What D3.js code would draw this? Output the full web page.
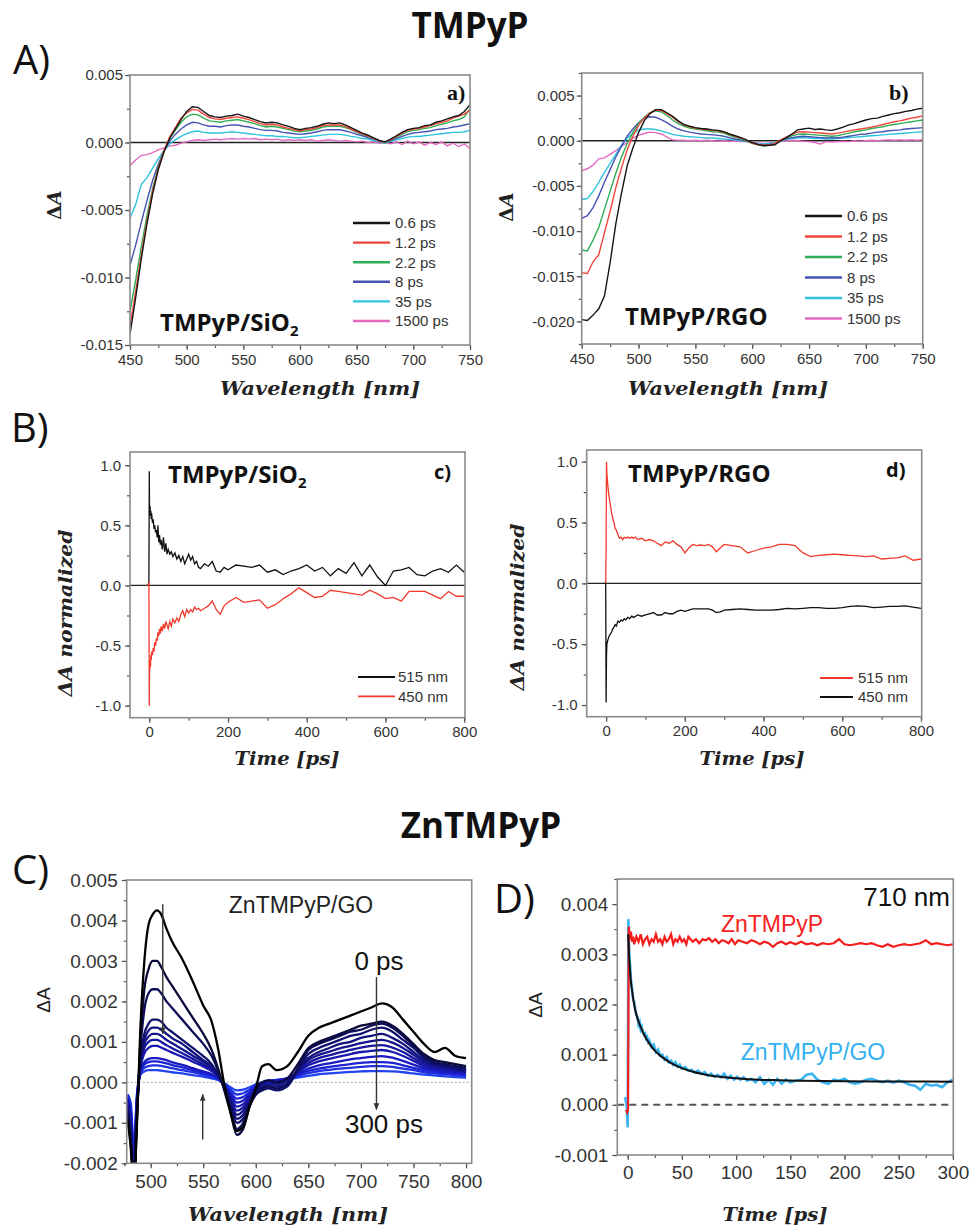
<!DOCTYPE html>
<html><head><meta charset="utf-8">
<script src="https://cdn.jsdelivr.net/npm/d3@7"></script>
<style>body{margin:0;background:#fff}svg{display:block}</style>
</head><body>
<svg id="fig" width="969" height="1225"></svg>
<script>
// ---------------- DATA (ΔA values in units of 10^-3 unless noted) ----------------
const MILLI = 1e-3;
const wlAB = [450,455,460,465,470,475,480,485,490,495,500,505,510,515,520,525,530,535,540,545,550,555,560,565,570,575,580,585,590,595,600,605,610,615,620,625,630,635,640,645,650,655,660,665,670,675,680,685,690,695,700,705,710,715,720,725,730,735,740,745,750];
const delaysAB = ["0.6 ps","1.2 ps","2.2 ps","8 ps","35 ps","1500 ps"];
const colorsAB = ["#161616","#f2453a","#2fac55","#4653b2","#2ec3de","#e06ac0"];
// panel a) TMPyP/SiO2
const a_0p6 = [-14.2,-11.5,-8.6,-6.0,-3.8,-2.0,-0.7,0.3,1.0,1.7,2.3,2.65,2.6,2.3,2.0,1.9,1.85,1.95,2.0,2.1,1.95,1.85,1.7,1.55,1.45,1.5,1.45,1.3,1.2,1.05,0.95,1.05,1.1,1.2,1.35,1.45,1.4,1.45,1.3,1.1,0.9,0.7,0.55,0.35,0.15,0.05,0.25,0.5,0.75,0.95,1.05,1.1,1.25,1.3,1.5,1.6,1.75,1.9,2.0,2.3,2.8];
const a_1p2 = [-13.6,-11.0,-8.3,-5.8,-3.6,-1.9,-0.6,0.4,1.1,1.8,2.2,2.45,2.4,2.1,1.85,1.75,1.7,1.8,1.85,1.9,1.8,1.7,1.55,1.4,1.3,1.35,1.3,1.15,1.05,0.95,0.85,0.95,1.0,1.1,1.25,1.3,1.3,1.3,1.2,1.0,0.8,0.65,0.5,0.3,0.1,0.05,0.2,0.45,0.7,0.9,1.0,1.05,1.15,1.25,1.4,1.5,1.6,1.8,1.95,2.1,2.4];
const a_2p2 = [-12.5,-10.2,-7.7,-5.4,-3.4,-1.8,-0.6,0.3,0.9,1.5,1.9,2.1,2.05,1.8,1.6,1.55,1.5,1.6,1.65,1.7,1.6,1.5,1.4,1.25,1.15,1.2,1.15,1.05,0.95,0.85,0.8,0.85,0.9,1.0,1.15,1.2,1.2,1.2,1.1,0.95,0.75,0.6,0.45,0.3,0.1,0.0,0.2,0.4,0.6,0.8,0.9,0.95,1.05,1.1,1.25,1.35,1.45,1.6,1.7,1.9,2.5];
const a_8 = [-9.1,-7.6,-5.9,-4.3,-2.8,-1.6,-0.6,0.1,0.6,1.0,1.3,1.5,1.45,1.3,1.2,1.2,1.15,1.25,1.3,1.3,1.2,1.15,1.05,0.95,0.9,0.9,0.85,0.75,0.7,0.65,0.6,0.65,0.7,0.8,0.9,0.95,0.95,0.95,0.85,0.75,0.6,0.5,0.35,0.25,0.1,0.0,0.15,0.3,0.45,0.6,0.7,0.75,0.8,0.85,0.95,1.0,1.05,1.15,1.2,1.3,1.4];
const a_35 = [-5.6,-4.6,-3.1,-2.6,-1.9,-1.2,-0.6,-0.1,0.2,0.45,0.65,0.8,0.85,0.75,0.7,0.7,0.7,0.75,0.8,0.75,0.7,0.65,0.6,0.55,0.5,0.5,0.45,0.45,0.4,0.35,0.35,0.4,0.45,0.5,0.55,0.6,0.6,0.6,0.55,0.45,0.4,0.3,0.25,0.15,0.05,-0.05,0.1,0.2,0.3,0.4,0.45,0.45,0.5,0.55,0.6,0.65,0.7,0.75,0.75,0.8,0.9];
const a_1500 = [-1.7,-1.3,-0.95,-0.9,-0.75,-0.55,-0.4,-0.25,-0.2,-0.05,0.05,0.15,0.2,0.15,0.2,0.25,0.2,0.25,0.3,0.25,0.3,0.25,0.3,0.2,0.25,0.2,0.25,0.15,0.2,0.15,0.2,0.15,0.2,0.1,0.15,0.2,0.15,0.1,0.15,0.1,0.05,0.1,0.0,0.05,-0.05,0.0,-0.1,0.05,-0.15,0.1,-0.1,0.05,-0.2,0.0,-0.15,0.05,-0.25,-0.05,-0.3,-0.1,-0.45];
// panel b) TMPyP/RGO
const b_0p6 = [-19.8,-19.9,-19.3,-18.6,-17.2,-13.5,-9.2,-5.8,-2.8,-0.8,0.9,2.2,3.0,3.45,3.45,3.1,2.7,2.2,1.8,1.6,1.45,1.35,1.3,1.2,1.15,1.0,0.75,0.55,0.35,0.1,-0.2,-0.4,-0.55,-0.5,-0.45,0.0,0.35,0.75,1.2,1.3,1.4,1.25,1.3,1.2,1.15,1.3,1.5,1.75,1.9,2.1,2.3,2.45,2.5,2.7,2.85,3.0,3.1,3.25,3.35,3.5,3.6];
const b_1p2 = [-14.6,-14.7,-13.4,-12.6,-10.2,-7.8,-5.2,-3.0,-1.0,0.5,1.7,2.5,3.05,3.4,3.35,3.0,2.6,2.1,1.75,1.55,1.4,1.3,1.25,1.15,1.1,0.95,0.7,0.5,0.3,0.05,-0.25,-0.45,-0.5,-0.45,-0.3,0.1,0.4,0.7,0.95,1.0,0.95,0.9,0.85,0.8,0.75,0.85,0.95,1.1,1.2,1.3,1.4,1.5,1.65,1.8,1.95,2.1,2.2,2.35,2.5,2.6,2.75];
const b_2p2 = [-12.1,-12.2,-11.0,-9.6,-7.6,-5.6,-3.6,-1.8,-0.3,0.9,1.9,2.6,3.1,3.3,3.2,2.8,2.3,1.9,1.6,1.4,1.3,1.2,1.1,1.0,0.95,0.85,0.6,0.4,0.2,0.0,-0.3,-0.45,-0.55,-0.5,-0.35,0.0,0.3,0.55,0.7,0.75,0.7,0.65,0.6,0.55,0.5,0.55,0.7,0.85,1.0,1.1,1.2,1.35,1.45,1.55,1.7,1.8,1.9,2.0,2.1,2.2,2.3];
const b_8 = [-8.6,-8.3,-7.4,-6.1,-4.6,-3.2,-1.8,-0.6,0.5,1.3,2.0,2.5,2.65,2.6,2.35,2.0,1.6,1.3,1.1,0.95,0.85,0.75,0.7,0.65,0.6,0.5,0.35,0.2,0.1,-0.05,-0.25,-0.4,-0.45,-0.4,-0.3,0.0,0.2,0.35,0.45,0.5,0.45,0.4,0.35,0.3,0.35,0.3,0.4,0.5,0.6,0.7,0.75,0.85,0.95,1.0,1.1,1.15,1.2,1.3,1.35,1.4,1.45];
const b_35 = [-6.5,-6.4,-5.6,-4.6,-3.5,-2.5,-1.5,-0.5,0.3,0.8,1.2,1.3,1.3,1.25,1.1,0.9,0.7,0.6,0.5,0.45,0.4,0.35,0.3,0.3,0.25,0.2,0.15,0.1,0.0,-0.1,-0.25,-0.35,-0.35,-0.3,-0.2,0.0,0.15,0.25,0.3,0.35,0.3,0.25,0.25,0.2,0.2,0.25,0.3,0.35,0.4,0.45,0.5,0.55,0.6,0.65,0.7,0.75,0.8,0.85,0.9,0.95,1.0];
const b_1500 = [-3.3,-3.1,-2.7,-2.0,-1.9,-1.5,-1.1,-0.6,-0.2,0.3,0.6,0.8,0.95,0.9,0.75,0.4,0.1,0.05,0.05,0.0,0.05,0.0,0.05,0.0,-0.05,0.0,-0.05,0.0,-0.1,-0.1,-0.2,-0.25,-0.3,-0.25,-0.2,-0.1,0.0,0.05,0.0,-0.05,-0.1,-0.2,-0.35,-0.1,-0.15,-0.1,-0.05,-0.1,0.0,-0.05,0.0,0.05,0.0,0.05,0.1,0.05,0.1,0.05,0.1,0.05,0.1];
// panels c) and d): normalized kinetics, [time ps, ΔA normalized]
const c_515 = [[-5,0],[-1,0.02],[0,0.95],[0.5,0.7],[1,0.6],[2,0.66],[3,0.58],[4,0.62],[5,0.55],[6,0.6],[8,0.52],[10,0.55],[12,0.47],[14,0.5],[16,0.44],[18,0.46],[20,0.4],[22,0.5],[24,0.36],[26,0.42],[28,0.34],[30,0.38],[33,0.3],[36,0.4],[39,0.28],[42,0.35],[45,0.26],[48,0.3],[52,0.26],[56,0.28],[60,0.24],[65,0.27],[70,0.22],[75,0.25],[80,0.2],[85,0.24],[90,0.18],[95,0.22],[100,0.26],[105,0.21],[110,0.24],[115,0.18],[120,0.2],[125,0.15],[130,0.14],[140,0.18],[150,0.16],[160,0.2],[170,0.12],[180,0.11],[190,0.15],[200,0.13],[220,0.17],[240,0.16],[260,0.15],[280,0.17],[300,0.11],[320,0.13],[340,0.09],[360,0.12],[380,0.14],[400,0.17],[420,0.12],[440,0.15],[460,0.08],[480,0.14],[500,0.1],[520,0.19],[540,0.08],[560,0.17],[580,0.07],[600,0.0],[620,0.12],[640,0.13],[660,0.15],[680,0.09],[700,0.08],[720,0.12],[740,0.14],[760,0.11],[780,0.17],[800,0.11]];
const c_450 = [[-5,0],[-1,0.02],[0,-1.0],[0.5,-0.75],[1,-0.7],[2,-0.62],[3,-0.68],[4,-0.58],[5,-0.62],[6,-0.55],[8,-0.58],[10,-0.52],[12,-0.55],[14,-0.47],[16,-0.5],[18,-0.44],[20,-0.46],[22,-0.39],[24,-0.42],[26,-0.36],[28,-0.4],[30,-0.34],[33,-0.38],[36,-0.32],[39,-0.36],[42,-0.3],[45,-0.33],[48,-0.36],[52,-0.3],[56,-0.34],[60,-0.28],[65,-0.31],[70,-0.27],[75,-0.3],[80,-0.24],[85,-0.21],[90,-0.26],[95,-0.2],[100,-0.23],[105,-0.2],[110,-0.22],[115,-0.18],[120,-0.2],[125,-0.19],[130,-0.21],[140,-0.19],[150,-0.17],[160,-0.13],[170,-0.2],[180,-0.24],[190,-0.17],[200,-0.14],[220,-0.1],[240,-0.14],[260,-0.13],[280,-0.12],[300,-0.19],[320,-0.16],[340,-0.11],[360,-0.07],[380,-0.02],[400,-0.06],[420,-0.1],[440,-0.09],[460,-0.04],[480,-0.05],[500,-0.06],[520,-0.07],[540,-0.08],[560,-0.04],[580,-0.07],[600,-0.11],[620,-0.1],[640,-0.13],[660,-0.05],[680,-0.05],[700,-0.05],[720,-0.08],[740,-0.11],[760,-0.05],[780,-0.09],[800,-0.09]];
const d_515 = [[-5,0],[-1,0],[0,0.3],[1,1.0],[2,0.9],[4,0.82],[6,0.75],[8,0.7],[10,0.66],[12,0.62],[14,0.58],[16,0.55],[18,0.52],[20,0.5],[23,0.45],[26,0.44],[30,0.4],[34,0.37],[38,0.38],[42,0.36],[46,0.38],[50,0.37],[55,0.38],[60,0.37],[65,0.38],[70,0.37],[75,0.38],[80,0.36],[90,0.37],[100,0.35],[110,0.36],[120,0.35],[130,0.33],[140,0.31],[150,0.34],[160,0.33],[170,0.35],[180,0.32],[190,0.3],[200,0.25],[210,0.29],[220,0.32],[230,0.31],[240,0.315],[250,0.31],[260,0.32],[270,0.3],[280,0.26],[290,0.29],[300,0.32],[320,0.31],[340,0.3],[360,0.25],[380,0.27],[400,0.29],[420,0.3],[440,0.32],[460,0.32],[480,0.31],[500,0.25],[520,0.22],[540,0.23],[560,0.235],[580,0.24],[600,0.235],[620,0.23],[640,0.225],[660,0.22],[680,0.225],[700,0.2],[720,0.205],[740,0.21],[760,0.225],[780,0.19],[800,0.2]];
const d_450 = [[-5,0],[-1,0],[0,-0.98],[1,-0.6],[2,-0.5],[4,-0.47],[6,-0.45],[8,-0.43],[10,-0.42],[12,-0.41],[14,-0.4],[16,-0.38],[18,-0.37],[20,-0.36],[23,-0.34],[26,-0.35],[30,-0.31],[34,-0.32],[38,-0.3],[42,-0.31],[46,-0.29],[50,-0.3],[55,-0.28],[60,-0.29],[65,-0.27],[70,-0.28],[75,-0.27],[80,-0.26],[90,-0.27],[100,-0.26],[110,-0.25],[120,-0.24],[130,-0.26],[140,-0.26],[150,-0.24],[160,-0.25],[170,-0.25],[180,-0.23],[190,-0.22],[200,-0.23],[210,-0.22],[220,-0.21],[230,-0.21],[240,-0.21],[250,-0.21],[260,-0.21],[270,-0.22],[280,-0.24],[290,-0.235],[300,-0.22],[320,-0.215],[340,-0.21],[360,-0.215],[380,-0.22],[400,-0.22],[420,-0.22],[440,-0.215],[460,-0.205],[480,-0.21],[500,-0.205],[520,-0.2],[540,-0.2],[560,-0.205],[580,-0.205],[600,-0.2],[620,-0.19],[640,-0.185],[660,-0.19],[680,-0.2],[700,-0.195],[720,-0.19],[740,-0.19],[760,-0.185],[780,-0.195],[800,-0.205]];
// panel C) ZnTMPyP/GO spectra, 0 ps ... 300 ps
const wlC = [478,481,484,487,490,494,498,502,506,510,515,520,530,540,550,558,564,570,576,582,588,594,600,606,612,620,630,640,650,660,670,680,690,700,710,720,730,740,750,760,770,780,790,800];
const C1 = [-0.9,-1.6,-2.6,-1.0,1.2,3.0,3.9,4.15,4.25,4.15,3.8,3.5,3.05,2.5,1.9,1.5,0.85,-0.05,-0.75,-1.2,-1.1,-0.6,-0.15,0.4,0.45,0.3,0.4,0.75,1.15,1.35,1.45,1.55,1.65,1.75,1.85,1.95,1.85,1.55,1.25,0.95,0.75,0.85,0.65,0.6];
const C2 = [-0.8,-1.5,-2.5,-0.9,0.9,2.3,2.8,3.0,3.0,2.85,2.6,2.4,2.0,1.6,1.2,0.8,0.35,-0.2,-0.75,-1.3,-1.15,-0.6,-0.2,0.0,0.05,0.0,0.1,0.45,0.85,1.0,1.1,1.2,1.3,1.4,1.45,1.5,1.4,1.2,0.95,0.7,0.55,0.5,0.45,0.4];
const C3 = [-0.7,-1.4,-2.5,-0.8,0.7,1.8,2.2,2.3,2.3,2.2,2.0,1.85,1.55,1.25,0.95,0.65,0.3,-0.15,-0.65,-1.15,-1.0,-0.6,-0.3,-0.15,-0.1,-0.15,-0.05,0.35,0.8,0.95,1.05,1.15,1.25,1.3,1.4,1.45,1.35,1.15,0.9,0.65,0.5,0.45,0.4,0.35];
const C4 = [-0.6,-1.3,-2.4,-0.7,0.5,1.2,1.45,1.55,1.55,1.5,1.35,1.25,1.05,0.85,0.65,0.45,0.2,-0.15,-0.6,-1.0,-0.9,-0.55,-0.3,-0.2,-0.15,-0.2,-0.1,0.3,0.7,0.85,0.95,1.05,1.15,1.2,1.3,1.35,1.25,1.05,0.85,0.6,0.45,0.4,0.35,0.3];
const C5 = [-0.6,-1.2,-2.3,-0.6,0.45,1.05,1.28,1.35,1.35,1.3,1.2,1.1,0.95,0.75,0.55,0.4,0.2,-0.1,-0.5,-0.9,-0.8,-0.5,-0.25,-0.15,-0.1,-0.1,0.0,0.3,0.6,0.75,0.85,0.95,1.0,1.1,1.15,1.2,1.1,0.95,0.75,0.55,0.45,0.4,0.35,0.3];
const C6 = [-0.5,-1.1,-2.2,-0.6,0.4,0.95,1.13,1.2,1.2,1.15,1.05,0.97,0.82,0.66,0.5,0.35,0.17,-0.1,-0.45,-0.8,-0.7,-0.45,-0.2,-0.1,-0.05,-0.05,0.05,0.28,0.55,0.68,0.76,0.84,0.9,0.97,1.02,1.05,0.98,0.85,0.68,0.5,0.42,0.37,0.33,0.28];
const C7 = [-0.5,-1.0,-2.1,-0.5,0.35,0.85,1.0,1.05,1.05,1.0,0.92,0.85,0.72,0.58,0.44,0.32,0.15,-0.08,-0.4,-0.7,-0.62,-0.4,-0.18,-0.08,-0.02,0.0,0.08,0.26,0.48,0.6,0.67,0.74,0.8,0.86,0.9,0.92,0.86,0.75,0.6,0.45,0.38,0.34,0.3,0.26];
const C8 = [-0.4,-0.9,-2.0,-0.5,0.3,0.72,0.85,0.9,0.9,0.86,0.8,0.74,0.63,0.51,0.39,0.28,0.14,-0.06,-0.35,-0.6,-0.54,-0.35,-0.15,-0.05,0.0,0.02,0.1,0.24,0.42,0.52,0.58,0.64,0.7,0.75,0.78,0.8,0.75,0.65,0.53,0.4,0.34,0.3,0.27,0.24];
const C9 = [-0.4,-0.8,-1.9,-0.4,0.25,0.5,0.58,0.6,0.6,0.58,0.55,0.5,0.43,0.35,0.27,0.2,0.1,-0.05,-0.3,-0.5,-0.45,-0.3,-0.12,-0.03,0.02,0.04,0.1,0.2,0.34,0.42,0.47,0.52,0.57,0.6,0.63,0.65,0.61,0.53,0.44,0.35,0.3,0.27,0.24,0.22];
const C10 = [-0.35,-0.7,-1.8,-0.4,0.22,0.44,0.5,0.52,0.52,0.5,0.47,0.43,0.37,0.3,0.23,0.17,0.09,-0.04,-0.25,-0.4,-0.36,-0.24,-0.1,-0.02,0.03,0.05,0.1,0.18,0.28,0.34,0.38,0.42,0.45,0.48,0.5,0.5,0.48,0.42,0.36,0.3,0.26,0.23,0.21,0.19];
const C11 = [-0.3,-0.6,-1.7,-0.3,0.2,0.36,0.4,0.42,0.42,0.41,0.38,0.35,0.3,0.25,0.19,0.14,0.08,-0.03,-0.18,-0.3,-0.27,-0.18,-0.07,0.0,0.04,0.06,0.1,0.16,0.23,0.28,0.31,0.34,0.36,0.38,0.4,0.4,0.38,0.34,0.3,0.25,0.22,0.2,0.18,0.16];
const C12 = [-0.3,-0.5,-1.6,-0.3,0.18,0.27,0.3,0.3,0.3,0.29,0.27,0.25,0.22,0.18,0.14,0.1,0.06,-0.02,-0.12,-0.2,-0.18,-0.12,-0.05,0.0,0.04,0.06,0.08,0.12,0.16,0.2,0.22,0.24,0.26,0.27,0.28,0.28,0.27,0.25,0.22,0.19,0.17,0.15,0.13,0.12];
const colorsC = ["#000000","#0a0a3c","#0c0c58","#10106e","#12127e","#14148e","#16169e","#1818b0","#1a1ac2","#1c24d2","#1e30e0","#2244f0"];
// arrows in C): [wavelength, from ΔA, to ΔA]
const arrowsC = [[511.5,0.0044,0.0012],[549.5,-0.00141,-0.0003],[714.8,0.0026,-0.00067]];
// panel D) kinetics at 710 nm, [time ps, ΔA x10^-3]
const D_Zn = [[-1.5,-0.1],[-0.5,-0.15],[0.3,-0.1],[1,3.55],[2,3.3],[3,3.45],[4,3.25],[5,3.35],[6,3.2],[8,3.35],[10,3.25],[12,3.4],[14,3.2],[16,3.3],[18,3.35],[20,3.2],[22,3.3],[24,3.25],[26,3.4],[28,3.25],[30,3.3],[32,3.2],[34,3.35],[36,3.25],[38,3.3],[40,3.4],[42,3.2],[44,3.3],[46,3.25],[48,3.35],[50,3.25],[52,3.3],[54,3.2],[56,3.35],[58,3.3],[60,3.25],[63,3.3],[66,3.22],[69,3.3],[72,3.28],[75,3.32],[78,3.25],[81,3.3],[84,3.22],[87,3.28],[90,3.26],[93,3.22],[96,3.3],[99,3.2],[102,3.28],[106,3.25],[110,3.22],[114,3.28],[118,3.25],[122,3.2],[126,3.25],[130,3.22],[134,3.15],[138,3.22],[142,3.25],[146,3.2],[150,3.24],[155,3.2],[160,3.25],[165,3.2],[170,3.22],[175,3.18],[180,3.22],[185,3.2],[190,3.22],[195,3.3],[200,3.2],[205,3.18],[210,3.2],[215,3.22],[220,3.2],[225,3.22],[230,3.18],[235,3.15],[240,3.2],[245,3.15],[250,3.18],[255,3.2],[260,3.18],[265,3.2],[270,3.22],[275,3.28],[280,3.2],[285,3.22],[290,3.2],[295,3.18],[300,3.2]];
const D_ZnGO = [[-2.5,0.15],[-1,0.0],[0,-0.45],[0.6,3.7],[1.5,3.0],[3,2.5],[4,2.3],[5,2.1],[6,2.05],[7,1.9],[8,1.8],[9,1.75],[10,1.6],[11,1.65],[12,1.5],[13,1.55],[14,1.45],[15,1.4],[16,1.42],[17,1.32],[18,1.35],[19,1.25],[20,1.28],[22,1.15],[24,1.2],[26,1.05],[28,1.1],[30,0.98],[32,1.0],[34,0.9],[36,0.95],[38,0.85],[40,0.88],[42,0.8],[44,0.85],[46,0.76],[48,0.8],[50,0.72],[53,0.75],[56,0.68],[59,0.7],[62,0.64],[65,0.68],[68,0.62],[71,0.65],[74,0.58],[77,0.62],[80,0.56],[83,0.6],[86,0.55],[89,0.62],[92,0.52],[95,0.58],[98,0.5],[101,0.56],[104,0.5],[107,0.55],[110,0.48],[114,0.52],[118,0.45],[122,0.55],[126,0.42],[130,0.5],[134,0.4],[138,0.52],[142,0.42],[146,0.5],[150,0.45],[155,0.48],[160,0.5],[165,0.6],[170,0.62],[175,0.5],[180,0.45],[185,0.42],[190,0.5],[195,0.48],[200,0.52],[205,0.45],[210,0.42],[215,0.45],[220,0.5],[225,0.52],[230,0.48],[235,0.45],[240,0.48],[245,0.44],[250,0.48],[255,0.45],[260,0.4],[265,0.38],[270,0.3],[275,0.42],[280,0.38],[285,0.4],[290,0.35],[295,0.45],[300,0.5]];
const D_fit = [[0.5,3.4],[1,3.1],[2,2.72],[3,2.45],[4,2.28],[5,2.12],[7,1.88],[10,1.66],[13,1.5],[16,1.36],[20,1.22],[25,1.08],[30,0.98],[35,0.9],[40,0.83],[50,0.73],[60,0.66],[70,0.61],[80,0.57],[90,0.55],[100,0.53],[120,0.5],[140,0.49],[160,0.48],[200,0.47],[250,0.465],[300,0.46]];
// ticks
const ticksA_y = [-0.015,-0.01,-0.005,0,0.005], ticksB_y = [-0.02,-0.015,-0.01,-0.005,0,0.005];
const ticksAB_x = [450,500,550,600,650,700,750];
const ticksCD_y = [-1,-0.5,0,0.5,1], ticksCD_x = [0,200,400,600,800];
const ticksC_y = [-0.002,-0.001,0,0.001,0.002,0.003,0.004,0.005], ticksC_x = [500,550,600,650,700,750,800];
const ticksD_y = [-0.001,0,0.001,0.002,0.003,0.004], ticksD_x = [0,50,100,150,200,250,300];

// ---------------- DRAWING ----------------
const svg = d3.select("#fig");
const SANS = "'Liberation Sans', Arial, sans-serif";
const BOLD = "'Open Sans', 'Noto Sans', sans-serif";
const MATH = "'DejaVu Serif', serif";

function panel(o) {
  const x = d3.scaleLinear().domain(o.xd).range([o.l, o.r]);
  const y = d3.scaleLinear().domain(o.yd).range([o.b, o.t]);
  const id = "clip" + o.id;
  svg.append("clipPath").attr("id", id).append("rect")
    .attr("x", o.l).attr("y", o.t).attr("width", o.r - o.l).attr("height", o.b - o.t);
  const g = svg.append("g");
  const style = sel => {
    sel.select(".domain").remove();
    sel.selectAll("line").attr("stroke", "#555").attr("stroke-width", 1.2);
    sel.selectAll("text").attr("font-family", SANS).attr("font-size", o.fs).attr("fill", "#333");
  };
  g.append("g").attr("transform", `translate(${o.l},0)`)
    .call(d3.axisLeft(y).tickValues(o.yMinor).tickSize(3).tickFormat("")).call(style);
  g.append("g").attr("transform", `translate(0,${o.b})`)
    .call(d3.axisBottom(x).tickValues(o.xMinor).tickSize(3).tickFormat("")).call(style);
  g.append("g").attr("transform", `translate(${o.l},0)`)
    .call(d3.axisLeft(y).tickValues(o.yt).tickSize(5).tickPadding(o.ypad).tickFormat(o.yf)).call(style);
  g.append("g").attr("transform", `translate(0,${o.b})`)
    .call(d3.axisBottom(x).tickValues(o.xt).tickSize(5).tickPadding(o.xpad).tickFormat(d => String(d))).call(style);
  const plot = svg.append("g").attr("clip-path", `url(#${id})`);
  const frame = svg.append("rect").attr("x", o.l).attr("y", o.t).attr("width", o.r - o.l).attr("height", o.b - o.t)
    .attr("fill", "none").attr("stroke", o.frame || "#8a8a8a").attr("stroke-width", 1.6);
  return { x, y, plot, g };
}
function minors(a, b, s) { const r = []; for (let v = a; v <= b + 1e-12; v += s) r.push(+v.toFixed(6)); return r; }

function mathLabel(txt, x, y, len, rotate) {
  const t = svg.append("text").attr("font-family", MATH).attr("font-weight", "bold").attr("font-style", "italic")
    .attr("font-size", 19).attr("fill", "#222").attr("text-anchor", "middle")
    .attr("textLength", len).attr("lengthAdjust", "spacingAndGlyphs").text(txt);
  if (rotate) t.attr("transform", `translate(${x},${y}) rotate(-90)`); else t.attr("x", x).attr("y", y);
  return t;
}
function deltaA(x, y, size, sans) {
  const t = svg.append("text").attr("transform", `translate(${x},${y}) rotate(-90)`).attr("text-anchor", "middle")
    .attr("font-size", size).attr("fill", "#222");
  if (sans) { t.attr("font-family", SANS).text("ΔA"); }
  else {
    t.attr("font-family", MATH).attr("font-weight", "bold");
    t.append("tspan").text("Δ");
    t.append("tspan").attr("font-style", "italic").text("A");
  }
}
function sampleLabel(x, y, main, sub, size) {
  const t = svg.append("text").attr("x", x).attr("y", y).attr("font-family", BOLD).attr("font-weight", "bold")
    .attr("font-size", size).attr("fill", "#111").text(main);
  if (sub) t.append("tspan").attr("font-size", size * 0.62).attr("dy", 5).text(sub);
}
function txt(x, y, s, size, opts = {}) {
  return svg.append("text").attr("x", x).attr("y", y).attr("font-family", opts.family || SANS)
    .attr("font-weight", opts.weight || "normal").attr("font-size", size).attr("fill", opts.fill || "#111")
    .attr("text-anchor", opts.anchor || "start").text(s);
}

// Titles and panel letters
txt(470, 38, "TMPyP", 35, { family: BOLD, weight: "bold", anchor: "middle" });
txt(481, 838, "ZnTMPyP", 35, { family: BOLD, weight: "bold", anchor: "middle" });
txt(13, 74, "A)", 40, { family: BOLD });
txt(11, 442, "B)", 40, { family: BOLD });
txt(12, 884, "C)", 40, { family: BOLD });
txt(494, 913, "D)", 40, { family: BOLD });

// ---- panel a
const fmt3 = v => v.toFixed(3);
const pa = panel({ id: "a", l: 130, r: 470, t: 75, b: 345, xd: [450, 750], yd: [-0.015, 0.005],
  xt: ticksAB_x, yt: ticksA_y, xMinor: minors(450, 750, 25), yMinor: minors(-0.015, 0.005, 0.0025),
  yf: fmt3, fs: 15, ypad: 2, xpad: 4 });
const pb = panel({ id: "b", l: 581.7, r: 922.7, t: 73, b: 344, xd: [450, 750], yd: [-0.0225, 0.0075],
  xt: ticksAB_x, yt: ticksB_y, xMinor: minors(450, 750, 25), yMinor: minors(-0.0225, 0.0075, 0.0025),
  yf: fmt3, fs: 15, ypad: 2, xpad: 4 });
[[pa, [a_0p6, a_1p2, a_2p2, a_8, a_35, a_1500]], [pb, [b_0p6, b_1p2, b_2p2, b_8, b_35, b_1500]]].forEach(([p, sets]) => {
  p.plot.append("line").attr("x1", p.x.range()[0]).attr("x2", p.x.range()[1]).attr("y1", p.y(0)).attr("y2", p.y(0))
    .attr("stroke", "#222").attr("stroke-width", 1.3);
  const line = d3.line().x((d, i) => p.x(wlAB[i])).y(d => p.y(d * MILLI));
  sets.slice().reverse().forEach((s, k) => {
    const i = sets.length - 1 - k;
    p.plot.append("path").attr("d", line(s)).attr("fill", "none").attr("stroke", colorsAB[i]).attr("stroke-width", 1.4);
  });
});
function legend(x0, x1, xt, y0, dy, labels, colors, size, lw) {
  labels.forEach((l, i) => {
    svg.append("line").attr("x1", x0).attr("x2", x1).attr("y1", y0 + i * dy).attr("y2", y0 + i * dy)
      .attr("stroke", colors[i]).attr("stroke-width", lw);
    txt(xt, y0 + i * dy + size * 0.36, l, size, { fill: "#333" });
  });
}
legend(353, 390, 395, 223, 19.6, delaysAB, colorsAB, 15, 2.4);
legend(805, 842, 847, 216, 20.5, delaysAB, colorsAB, 15, 2.4);
sampleLabel(160, 331, "TMPyP/SiO", "2", 24);
sampleLabel(625, 325, "TMPyP/RGO", null, 24);
txt(447, 100, "a)", 22, { family: "'Liberation Serif', serif", weight: "bold" });
txt(889, 100, "b)", 22, { family: "'Liberation Serif', serif", weight: "bold" });
mathLabel("Wavelength [nm]", 320, 395, 200);
mathLabel("Wavelength [nm]", 728, 395, 200);
deltaA(61, 205, 19);
deltaA(513, 207, 19);

// ---- panels c, d
const fmt1 = v => v.toFixed(1);
const pc = panel({ id: "c", l: 130, r: 465, t: 452, b: 717.7, xd: [-49, 802], yd: [-1.1, 1.11],
  xt: ticksCD_x, yt: ticksCD_y, xMinor: minors(0, 800, 100), yMinor: minors(-1, 1, 0.25),
  yf: fmt1, fs: 15, ypad: 4, xpad: 4 });
const pd = panel({ id: "d", l: 586.7, r: 921.7, t: 450, b: 716.7, xd: [-49.3, 801.8], yd: [-1.096, 1.096],
  xt: ticksCD_x, yt: ticksCD_y, xMinor: minors(0, 800, 100), yMinor: minors(-1, 1, 0.25),
  yf: fmt1, fs: 15, ypad: 4, xpad: 4 });
[[pc, [[c_515, "#111"], [c_450, "#f0392b"]]], [pd, [[d_515, "#f0392b"], [d_450, "#111"]]]].forEach(([p, sets]) => {
  p.plot.append("line").attr("x1", p.x.range()[0]).attr("x2", p.x.range()[1]).attr("y1", p.y(0)).attr("y2", p.y(0))
    .attr("stroke", "#222").attr("stroke-width", 1.2);
  const line = d3.line().x(d => p.x(d[0])).y(d => p.y(d[1]));
  sets.forEach(([s, c]) => p.plot.append("path").attr("d", line(s)).attr("fill", "none").attr("stroke", c).attr("stroke-width", 1.3));
});
legend(358, 395, 398, 677, 19.3, ["515 nm", "450 nm"], ["#111", "#f0392b"], 15, 1.8);
legend(820, 853, 858, 678, 19, ["515 nm", "450 nm"], ["#f0392b", "#111"], 15, 1.8);
sampleLabel(168, 483, "TMPyP/SiO", "2", 24);
sampleLabel(628, 482, "TMPyP/RGO", null, 24);
txt(434, 479, "c)", 20, { family: BOLD, weight: "bold" });
txt(886, 477, "d)", 20, { family: BOLD, weight: "bold" });
mathLabel("Time [ps]", 287, 765, 105);
mathLabel("Time [ps]", 752, 765, 105);
mathLabel("ΔA normalized", 72, 613, 167, true);
mathLabel("ΔA normalized", 524, 607, 167, true);

// ---- panel C
const fmtC = v => v.toFixed(3);
const pC = panel({ id: "C", l: 126.7, r: 471.7, t: 880, b: 1163.3, xd: [477.2, 805.4], yd: [-0.002, 0.005],
  xt: ticksC_x, yt: ticksC_y, xMinor: minors(475, 800, 25), yMinor: minors(-0.002, 0.005, 0.0005),
  yf: fmtC, fs: 19, ypad: 4, xpad: 6, frame: "#8a8a8a" });
pC.plot.append("line").attr("x1", pC.x.range()[0]).attr("x2", pC.x.range()[1]).attr("y1", pC.y(0)).attr("y2", pC.y(0))
  .attr("stroke", "#b5b5b5").attr("stroke-width", 1.2).attr("stroke-dasharray", "2,2");
const spectraC = [C1, C2, C3, C4, C5, C6, C7, C8, C9, C10, C11, C12];
const lineC = d3.line().x((d, i) => pC.x(wlC[i])).y(d => pC.y(d * MILLI)).curve(d3.curveMonotoneX);
spectraC.slice().reverse().forEach((s, k) => {
  const i = spectraC.length - 1 - k;
  pC.plot.append("path").attr("d", lineC(s)).attr("fill", "none").attr("stroke", colorsC[i]).attr("stroke-width", 2.3);
});
const defs = svg.append("defs");
defs.append("marker").attr("id", "ah").attr("viewBox", "0 0 10 10").attr("refX", 9).attr("refY", 5)
  .attr("markerWidth", 5).attr("markerHeight", 6).attr("orient", "auto")
  .append("path").attr("d", "M0,1 L10,5 L0,9 Z").attr("fill", "#333");
arrowsC.forEach(([w, v1, v2]) => {
  svg.append("line").attr("x1", pC.x(w)).attr("x2", pC.x(w)).attr("y1", pC.y(v1)).attr("y2", pC.y(v2))
    .attr("stroke", "#333").attr("stroke-width", 1.4).attr("marker-end", "url(#ah)");
});
txt(301, 913, "ZnTMPyP/GO", 23, { anchor: "middle", fill: "#222" });
txt(379, 970, "0 ps", 26, { anchor: "middle", fill: "#111" });
txt(384, 1133, "300 ps", 26, { anchor: "middle", fill: "#111" });
mathLabel("Wavelength [nm]", 288, 1221, 200);
deltaA(50, 1000, 19, true);

// ---- panel D
const pD = panel({ id: "D", l: 617.3, r: 953.3, t: 879, b: 1155, xd: [-9.6, 300.4], yd: [-0.001, 0.0045],
  xt: ticksD_x, yt: ticksD_y, xMinor: minors(0, 300, 25), yMinor: minors(-0.001, 0.0045, 0.0005),
  yf: fmtC, fs: 19, ypad: 4, xpad: 6, frame: "#8a8a8a" });
pD.plot.append("line").attr("x1", pD.x.range()[0]).attr("x2", pD.x.range()[1]).attr("y1", pD.y(0)).attr("y2", pD.y(0))
  .attr("stroke", "#555").attr("stroke-width", 2).attr("stroke-dasharray", "7,5");
const lineD = d3.line().x(d => pD.x(d[0])).y(d => pD.y(d[1] * MILLI));
pD.plot.append("path").attr("d", lineD(D_ZnGO)).attr("fill", "none").attr("stroke", "#3bb4f2").attr("stroke-width", 2.6);
pD.plot.append("path").attr("d", lineD(D_Zn)).attr("fill", "none").attr("stroke", "#f51c1c").attr("stroke-width", 2.2);
pD.plot.append("path").attr("d", lineD.curve(d3.curveMonotoneX)(D_fit)).attr("fill", "none").attr("stroke", "#111").attr("stroke-width", 2);
txt(950, 906, "710 nm", 26, { anchor: "end", fill: "#111" });
txt(772, 932, "ZnTMPyP", 23, { anchor: "middle", fill: "#f52222" });
txt(813, 1060, "ZnTMPyP/GO", 23, { anchor: "middle", fill: "#33b0f0" });
mathLabel("Time [ps]", 775, 1221, 105);
deltaA(542, 1005, 19, true);
</script>
</body></html>
